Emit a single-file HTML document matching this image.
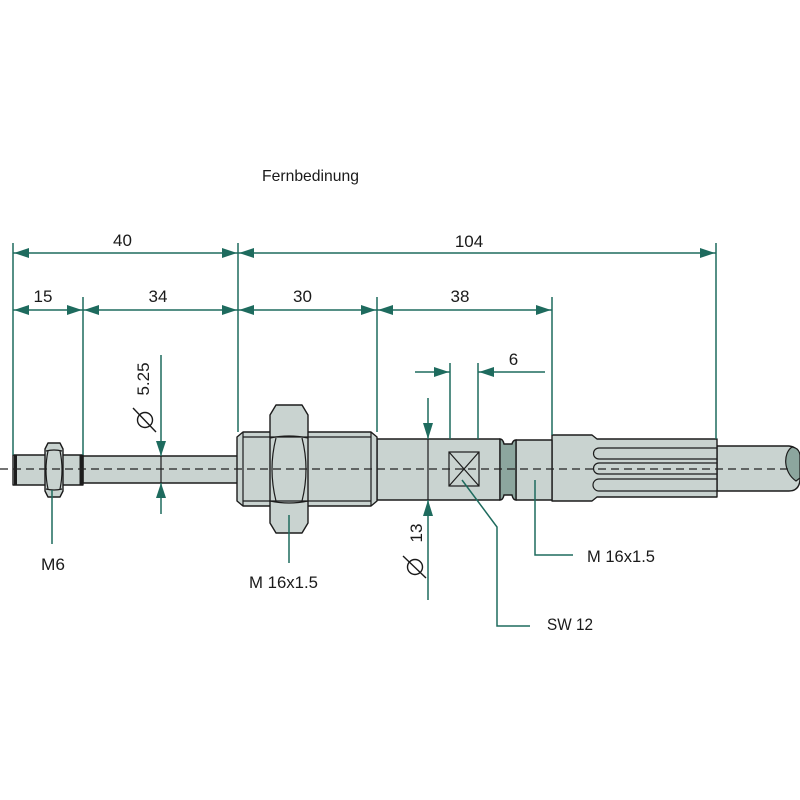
<!DOCTYPE html>
<html><head><meta charset="utf-8"><style>
html,body{margin:0;padding:0;background:#fff;}
svg{display:block;}
text{font-family:"Liberation Sans",sans-serif;fill:#1a1a1a;}
</style></head><body>
<svg width="800" height="800" viewBox="0 0 800 800" xmlns="http://www.w3.org/2000/svg">
<rect width="800" height="800" fill="#fff"/>

<!-- title -->
<text x="262" y="181" font-size="16" textLength="97" lengthAdjust="spacingAndGlyphs">Fernbedinung</text>

<!-- PART -->
<g stroke="#1c1c1c" stroke-width="1.4" fill="#c9d3d0" stroke-linejoin="round">
  <!-- thin rod 5.25 -->
  <rect x="83" y="456" width="156" height="27"/>
  <!-- M6 thread -->
  <rect x="13" y="455" width="70" height="30"/>
  <!-- shaft right end -->
  <path d="M717,446 L789,446 Q800,447 800,462 L800,480 Q799,491 789,491 L717,491 Z"/>
  <!-- spline section -->
  <path d="M552,435 L592,435 L597,439 L717,439 L717,497 L597,497 L592,501 L552,501 Z"/>
  <!-- section 516-552 -->
  <rect x="516" y="440" width="36" height="60"/>
  <!-- body 13 -->
  <rect x="377" y="439" width="123" height="61"/>
  <!-- M16 thread section -->
  <path d="M237,437 L243,432 L371,432 L377,437 L377,501 L371,506 L243,506 L237,501 Z"/>
  <!-- big nut -->
  <path d="M270,415 L276,405 L302,405 L308,415 L308,523 L302,533 L276,533 L270,523 Z"/>
  <!-- M6 nut -->
  <path d="M45,449 L48,443 L60,443 L63,449 L63,491 L60,497 L48,497 L45,491 Z"/>
</g>

<!-- groove dark -->
<path d="M500,439 Q503,439 504,444 L512,444 Q513,440 516,440 L516,500 Q513,500 512,495 L504,495 Q503,500 500,500 Z" fill="#8ca69e" stroke="#1c1c1c" stroke-width="1.4"/>
<!-- shaft end ellipse -->
<path d="M792,447 C783,453 783,472 796,481 L800,478 L800,455 Q799,448 792,447 Z" fill="#8ca69e" stroke="#1c1c1c" stroke-width="1.2"/>

<g stroke="#1c1c1c" stroke-width="1.2" fill="none">
  <!-- M6 thread details -->
  <line x1="15.5" y1="455" x2="15.5" y2="485" stroke-width="3"/>
  <line x1="81" y1="455" x2="81" y2="485" stroke-width="3"/>
  <!-- M6 nut inner -->
  <path d="M46,451 Q54,449 62,451"/>
  <path d="M46,489 Q54,491 62,489"/>
  <path d="M48,451 Q44,470 48,489"/>
  <path d="M60,451 Q64,470 60,489"/>
  <!-- M16 thread inner lines -->
  <line x1="243" y1="432" x2="243" y2="506"/>
  <line x1="371" y1="432" x2="371" y2="506"/>
  <line x1="243" y1="437" x2="371" y2="437"/>
  <line x1="243" y1="501" x2="371" y2="501"/>
  <!-- big nut inner -->
  <path d="M270,438 Q289,434 308,438"/>
  <path d="M270,501 Q289,505 308,501"/>
  <path d="M276,438 Q268,469 276,501"/>
  <path d="M302,438 Q310,469 302,501"/>
  <!-- spline slots -->
  <path d="M717,448 L599,448 A5.5,5.5 0 0 0 599,459 L717,459"/>
  <path d="M717,463 L599,463 A5.5,5.5 0 0 0 599,474 L717,474"/>
  <path d="M717,479 L599,479 A6,6 0 0 0 599,491 L717,491"/>
  <!-- SW square -->
  <rect x="449" y="452" width="30" height="34"/>
  <line x1="449" y1="452" x2="479" y2="486"/>
  <line x1="479" y1="452" x2="449" y2="486"/>
  <!-- diameter through-lines -->
  <line x1="161" y1="456" x2="161" y2="483"/>
  <line x1="428" y1="439" x2="428" y2="500"/>
</g>

<!-- centerline -->
<line x1="0" y1="469" x2="792" y2="469" stroke="#222" stroke-width="1.3" stroke-dasharray="8,5"/>

<!-- DIMENSIONS -->
<g stroke="#1e6b5e" stroke-width="1.5" fill="none">
  <!-- extension lines -->
  <line x1="13" y1="243" x2="13" y2="455"/>
  <line x1="83" y1="297" x2="83" y2="455"/>
  <line x1="238" y1="243" x2="238" y2="432"/>
  <line x1="377" y1="297" x2="377" y2="432"/>
  <line x1="552" y1="297" x2="552" y2="435"/>
  <line x1="716" y1="243" x2="716" y2="439"/>
  <line x1="450" y1="363" x2="450" y2="439"/>
  <line x1="478" y1="363" x2="478" y2="439"/>
  <!-- dim lines -->
  <line x1="13" y1="253" x2="716" y2="253"/>
  <line x1="13" y1="310" x2="552" y2="310"/>
  <line x1="415" y1="372" x2="450" y2="372"/>
  <line x1="478" y1="372" x2="545" y2="372"/>
  <line x1="161" y1="355" x2="161" y2="456"/>
  <line x1="161" y1="483" x2="161" y2="514"/>
  <line x1="428" y1="398" x2="428" y2="439"/>
  <line x1="428" y1="500" x2="428" y2="600"/>
  <!-- leaders -->
  <line x1="52" y1="490" x2="52" y2="544"/>
  <line x1="289" y1="515" x2="289" y2="563"/>
  <polyline points="535,480 535,555 573,555"/>
  <polyline points="462,480 497,527 497,626 530,626"/>
</g>
<g fill="#1e6b5e">
  <!-- row 1 -->
  <polygon points="14,253 29,248 29,258"/>
  <polygon points="237,253 222,248 222,258"/>
  <polygon points="239,253 254,248 254,258"/>
  <polygon points="715,253 700,248 700,258"/>
  <!-- row 2 -->
  <polygon points="14,310 29,305 29,315"/>
  <polygon points="82,310 67,305 67,315"/>
  <polygon points="84,310 99,305 99,315"/>
  <polygon points="237,310 222,305 222,315"/>
  <polygon points="239,310 254,305 254,315"/>
  <polygon points="376,310 361,305 361,315"/>
  <polygon points="378,310 393,305 393,315"/>
  <polygon points="551,310 536,305 536,315"/>
  <!-- 6 -->
  <polygon points="449,372 434,367 434,377"/>
  <polygon points="479,372 494,367 494,377"/>
  <!-- diameters -->
  <polygon points="161,456 156,441 166,441"/>
  <polygon points="161,483 156,498 166,498"/>
  <polygon points="428,439 423,423 433,423"/>
  <polygon points="428,500 423,516 433,516"/>
</g>

<!-- dimension text -->
<text x="122.5" y="246" font-size="17" text-anchor="middle">40</text>
<text x="469" y="247" font-size="17" text-anchor="middle">104</text>
<text x="43" y="302" font-size="17" text-anchor="middle">15</text>
<text x="158" y="302" font-size="17" text-anchor="middle">34</text>
<text x="302.5" y="302" font-size="17" text-anchor="middle">30</text>
<text x="460" y="302" font-size="17" text-anchor="middle">38</text>
<text x="513.5" y="365" font-size="17" text-anchor="middle">6</text>

<!-- rotated diameter texts -->
<text x="0" y="0" font-size="17" text-anchor="middle" transform="translate(149,379) rotate(-90)">5.25</text>
<text x="0" y="0" font-size="17" text-anchor="middle" transform="translate(422,533) rotate(-90)">13</text>
<g stroke="#1a1a1a" stroke-width="1.4" fill="none">
  <circle cx="145" cy="420" r="7.5"/>
  <line x1="133" y1="408" x2="156" y2="432"/>
  <circle cx="415" cy="567" r="7.5"/>
  <line x1="403" y1="556" x2="426" y2="578"/>
</g>

<!-- labels -->
<text x="41" y="570" font-size="17" textLength="24" lengthAdjust="spacingAndGlyphs">M6</text>
<text x="249" y="588" font-size="17" textLength="69" lengthAdjust="spacingAndGlyphs">M 16x1.5</text>
<text x="587" y="562" font-size="17" textLength="68" lengthAdjust="spacingAndGlyphs">M 16x1.5</text>
<text x="547" y="630" font-size="17" textLength="46" lengthAdjust="spacingAndGlyphs">SW 12</text>
</svg>
</body></html>
